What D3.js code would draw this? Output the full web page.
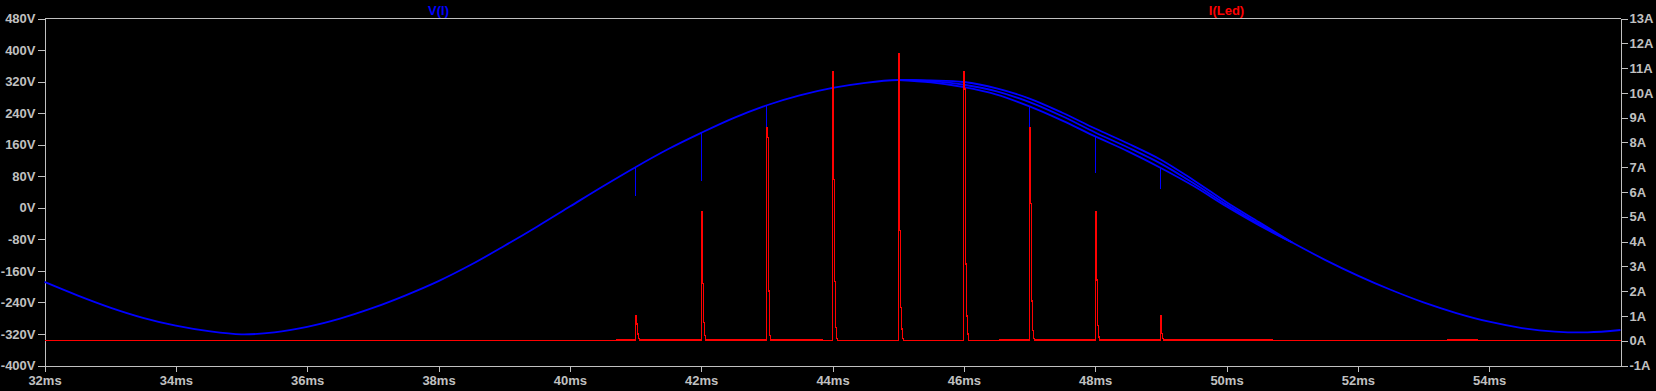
<!DOCTYPE html>
<html>
<head>
<meta charset="utf-8">
<script src="https://cdn.jsdelivr.net/npm/d3@7"></script>
<style>
  html, body { margin: 0; padding: 0; background: #000; }
  #graf { width: 1656px; height: 391px; }
  .eje text { font-family: 'Liberation Sans', Arial, sans-serif; font-size: 13px; font-weight: bold; fill: #c0c0c0; }
  .eje line, .eje path { stroke: #c0c0c0; shape-rendering: crispEdges; }
</style>
</head>
<body>
<div id="graf"></div>
<script>
// -- Datos
// V(l): traza principal, cada 0.5 ms
const tiempos = [32, 32.5, 33, 33.5, 34, 34.5, 35, 35.5, 36, 36.5, 37, 37.5, 38, 38.5, 39, 39.5,
                 40, 40.5, 41, 41.5, 42, 42.5, 43, 43.5, 44, 44.5, 45, 45.5, 46, 46.5, 47, 47.5,
                 48, 48.5, 49, 49.5, 50, 50.5, 51, 51.5, 52, 52.5, 53, 53.5, 54, 54.5, 55, 55.5, 56]
const vPrincipal = [-188, -222, -253, -279, -299, -313, -321, -316, -302, -281, -254, -222, -186, -144, -97, -48,
                    3, 54, 103, 149, 190, 228, 260, 285, 304, 317, 324, 321, 312, 295, 268, 232,
                    191, 153, 112, 62, 8, -42, -88, -132, -172, -208, -240, -267, -289, -305, -314, -316, -310]
// V(l): las otras dos curvas que se separan en la bajada
const tSeparadas = [45, 45.5, 46, 46.5, 47, 47.5, 48, 48.5, 49, 49.5, 50, 50.5, 51]
const vAlta = [324, 323, 319, 303, 277, 241, 201, 163, 122, 70, 14, -37, -88]
const vBaja = [324, 318, 306, 287, 257, 221, 181, 143, 101, 55, 3, -45, -88]
// V(l): caídas verticales en cada pulso
const caidaT = [41, 42, 43, 47, 48, 49]
const caidaArriba = [103, 190, 260, 257, 181, 101]
const caidaAbajo = [29, 67, 206, 206, 89, 47]
// I(Led): pulsos (niveles por columna de ~0.015 ms)
const pulsoT = [41, 42, 43, 44, 45, 46, 47, 48, 49]
const pulsoNiveles = [
  [1.0, 0.68, 0.27, 0.1],
  [5.2, 2.3, 0.74, 0.2],
  [8.6, 8.2, 2.0, 0.2],
  [10.86, 6.5, 2.4, 0.54, 0.1],
  [11.6, 4.45, 1.35, 0.47, 0.1],
  [10.85, 10.15, 3.1, 1.0, 0.27],
  [8.6, 5.55, 1.6, 0.4, 0.1],
  [5.2, 2.45, 0.6, 0.15],
  [1.0, 0.28, 0.1]
]
const pasoPulso = 0.0152
// I(Led): tramos con fuga pequeña sobre 0A
const fugaTramos = [[40.72, 43.85], [46.55, 50.7], [53.37, 53.82]]
const fugaNivel = 0.03
// -- Ticks
const ticksX = [32, 34, 36, 38, 40, 42, 44, 46, 48, 50, 52, 54]
const ticksV = [-400, -320, -240, -160, -80, 0, 80, 160, 240, 320, 400, 480]
const ticksI = [-1, 0, 1, 2, 3, 4, 5, 6, 7, 8, 9, 10, 11, 12, 13]

// -- Configuración del canvas
const ancho_total = 1656
const alto_total = 391
const margins = {top: 18.5, left: 44.5, right: 35.5, bottom: 25.5}
const ancho = ancho_total - margins.left - margins.right
const alto = alto_total - margins.top - margins.bottom

const svg = d3.select('#graf').append('svg')
              .attr('width', ancho_total)
              .attr('height', alto_total)
              .style('background', '#000')

const g = svg.append('g')
             .attr('transform', `translate(${margins.left}, ${margins.top})`)

// -- Escaladores
const x = d3.scaleLinear().domain([32, 56]).range([0, ancho])
const yV = d3.scaleLinear().domain([-400, 480]).range([alto, 0])
const yI = d3.scaleLinear().domain([-1, 13]).range([alto, 0])

// -- Ejes
g.append('g')
    .attr('class', 'eje')
    .attr('transform', `translate(0,${alto})`)
    .call(d3.axisBottom(x).tickValues(ticksX).tickSize(6).tickSizeOuter(0).tickPadding(4)
            .tickFormat(d => `${d}ms`))
g.append('g')
    .attr('class', 'eje')
    .call(d3.axisLeft(yV).tickValues(ticksV).tickSize(7).tickSizeOuter(0).tickPadding(2)
            .tickFormat(d => `${d}V`))
g.append('g')
    .attr('class', 'eje')
    .attr('transform', `translate(${ancho},0)`)
    .call(d3.axisRight(yI).tickValues(ticksI).tickSize(7).tickSizeOuter(0).tickPadding(2)
            .tickFormat(d => `${d}A`))
g.append('line')
    .attr('x1', 0).attr('x2', ancho)
    .attr('y1', 0).attr('y2', 0)
    .attr('stroke', '#c0c0c0')
    .attr('shape-rendering', 'crispEdges')

// -- Nombres de las trazas
g.append('text')
    .attr('x', ancho * 0.25).attr('y', -4)
    .attr('text-anchor', 'middle')
    .attr('font-family', "'Liberation Sans', Arial, sans-serif")
    .attr('font-size', '13px').attr('font-weight', 'bold')
    .attr('fill', '#0000ff')
    .text('V(l)')
g.append('text')
    .attr('x', ancho * 0.75).attr('y', -4)
    .attr('text-anchor', 'middle')
    .attr('font-family', "'Liberation Sans', Arial, sans-serif")
    .attr('font-size', '13px').attr('font-weight', 'bold')
    .attr('fill', '#ff0000')
    .text('I(Led)')

// -- Trazas de V(l)
const lineaV = d3.line()
                 .x(d => x(d[0]))
                 .y(d => yV(d[1]))
                 .curve(d3.curveCatmullRom.alpha(0.5))

const trazas = [
  d3.zip(tiempos, vPrincipal),
  d3.zip(tSeparadas, vAlta),
  d3.zip(tSeparadas, vBaja)
]
g.selectAll('path.traza-v')
    .data(trazas)
    .enter()
    .append('path')
    .attr('class', 'traza-v')
    .attr('d', lineaV)
    .attr('fill', 'none')
    .attr('stroke', '#0000ff')
    .attr('stroke-width', 1.8)

g.selectAll('line.caida')
    .data(caidaT)
    .enter()
    .append('line')
    .attr('class', 'caida')
    .attr('x1', d => Math.round(x(d)))
    .attr('x2', d => Math.round(x(d)))
    .attr('y1', (d, i) => yV(caidaArriba[i]))
    .attr('y2', (d, i) => yV(caidaAbajo[i]))
    .attr('stroke', '#0000ff')
    .attr('stroke-width', 1)
    .attr('shape-rendering', 'crispEdges')

// -- Traza de I(Led)
const enFuga = t => fugaTramos.some(s => t >= s[0] && t < s[1])
let puntosI = [[32, 0]]
fugaTramos.forEach(s => {
  puntosI.push([s[0], fugaNivel])
  puntosI.push([s[1], 0])
})
pulsoT.forEach((t0, k) => {
  const niveles = pulsoNiveles[k]
  niveles.forEach((v, j) => puntosI.push([t0 + j * pasoPulso, v]))
  const fin = t0 + niveles.length * pasoPulso
  puntosI.push([fin, enFuga(fin) ? fugaNivel : 0])
})
puntosI.sort((a, b) => a[0] - b[0])
puntosI.push([56, 0])

const lineaI = d3.line()
                 .x(d => x(d[0]))
                 .y(d => yI(d[1]))
                 .curve(d3.curveStepAfter)

g.append('path')
    .datum(puntosI)
    .attr('d', lineaI)
    .attr('fill', 'none')
    .attr('stroke', '#ff0000')
    .attr('stroke-width', 1.3)
    .attr('shape-rendering', 'crispEdges')
</script>
</body>
</html>
